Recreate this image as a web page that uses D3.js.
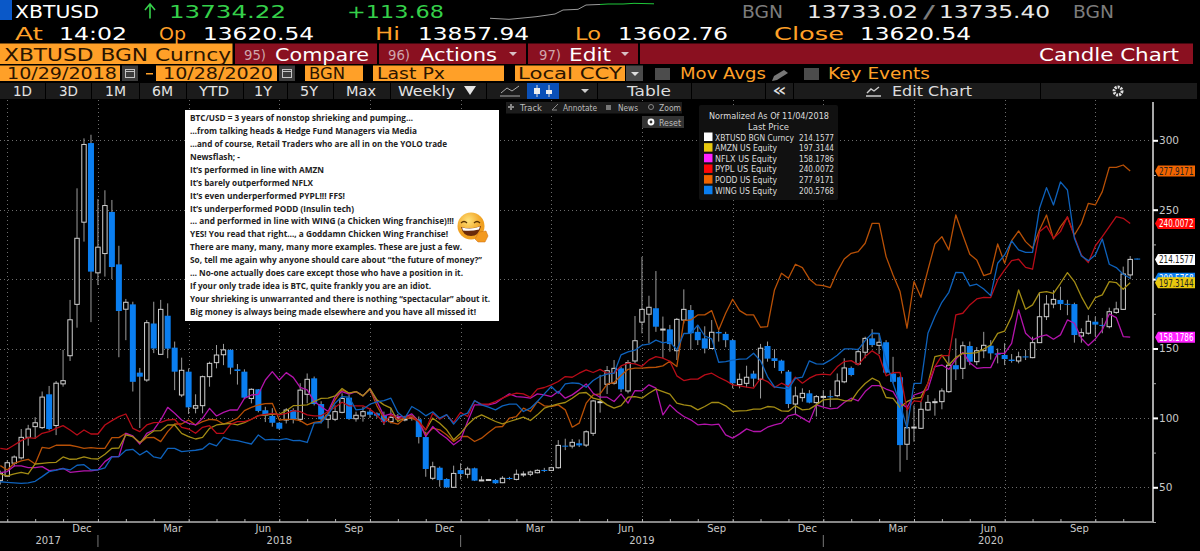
<!DOCTYPE html>
<html>
<head>
<meta charset="utf-8">
<script src="https://d3js.org/d3.v7.min.js"></script>
<style>
  html, body { margin: 0; padding: 0; background: #000; overflow: hidden; }
  svg { display: block; }
  text { font-family: "DejaVu Sans", sans-serif; }
</style>
</head>
<body>
<svg id="chart" width="1200" height="551"></svg>
<script>
// weekly candles, index = week number on the axis
const candleOpen = [55,58,67.4,71.2,86,93.7,93,117,94.5,124.5,
144.8,181.8,241,298,204.5,218.4,248.4,210.6,178.3,181.8,
132.6,127.3,168,145.8,173.6,150.6,116.5,133.3,107,108.8,
129.7,139.8,145.5,149,135,133.3,114,120.6,105.5,101.4,
96.5,98.5,105.7,99,117,128.5,110,99,99,104,
114.6,99.4,101.4,104.5,103.3,101.9,97.3,99.5,98.7,99.8,
99,86.2,56.5,64.1,56,50,62.4,59.4,63.7,55,
55.2,55.3,53.3,56.7,55.7,59.2,59.4,60.5,62.5,62.2,
64.1,80,79.7,81.7,80.4,88.9,111.2,124.2,125,135.7,
119.4,141,169,174.7,179,163.7,163.8,148.4,170.5,177.7,
162,157.3,150,161.9,160.5,156,124,124.9,131.9,127.8,
151.8,143,141.3,133.3,110,114.6,117.7,111,115.2,115.6,
116,126,136,138.8,147.3,157.3,152.3,154.5,132,129.3,
81,93,92.5,105.7,111.2,111.7,118.9,138,135.7,151.8,
140.5,148.4,152,146.5,145.3,142,141,144.3,143.4,154.2,
172.9,182,185,182.2,182,159,161,169.3,167,165.7,
176,178.2,203,214.8];
const candleClose = [60,67.7,71.8,86,92,96.5,115,92,125,126.8,
170.7,229.4,297,205.4,223,253,208.7,177,183.3,126,
129.7,168.6,150,178.2,149.9,133.3,134.3,107.6,108.8,129.7,
139.3,145.3,149,136.2,133.8,114.6,120.6,105,101.6,96.5,
92.2,105.7,99,120,127.8,110,99,102,104.5,114,
99.2,101.9,104.5,102.3,101.6,97,100.4,100,99.2,100.4,
86.2,63.2,64.8,55.2,50,60,59.6,63.2,54.8,55.3,
55.6,52.9,56.5,56.2,59.4,59.6,61,62.2,62.2,64.1,
80.2,79.5,82.4,80.2,90,112.2,111.7,134,135.7,120.6,
139.8,155.6,178.2,179.7,165.7,164,153.2,171,178.2,161,
156,150,161.7,160.9,156,125,127.8,129.3,128.3,150.2,
142.7,141,133.8,110,115.8,117.7,111,115.3,115.5,115,
126.6,136,130.9,147.7,157.3,152.5,154.5,132.6,126,80.4,
93,93.4,106.2,111.2,111.7,119.4,138,135,152,140.5,
148.4,152.3,146.5,145.5,142.4,141,144,143.7,154.2,172.9,
182,185.4,182,181.8,159.7,161.4,169.6,167.2,166.5,176.5,
178.5,203.7,214.2,214.2];
const candleHigh = [62,69.5,73,92,95,100.5,119,123,126.6,149,
185,265.4,301.4,304,257.6,264,257,224,185.7,183.7,
136,170.5,183.7,185,182.5,155,143.4,135.7,117,130.5,
140.5,152.5,153.3,149.5,138.8,135,121.3,120.8,108,107,
97,107,107,125,132,129.8,112,104.5,109,117.7,
116.5,104.5,108,106,104,104.5,107,102.8,101.5,101,
101,90,68.4,65,56.5,65.6,67.3,64.8,64.2,58,
56,56,58,57.5,62.8,61.5,62,63,64,64.8,
84,85,84.8,84.5,91,113,131,137.4,141.7,137,
141.7,173.4,216,188,205.8,173,167,172,192.6,181.3,
167,166,170.5,163,162,157,132,137.6,134,153.3,
155,149.5,142,134.5,122.5,121.3,120,116.5,120,120,
132,143,137,150,158.5,163.9,161,156,144,130,
105.7,109,111.7,116.5,114,121.3,145.4,157.3,155,155,
151,162,156,150,153.8,146,147.7,149,158.5,190,
188.5,192,194.5,185,183,164.5,174,173,172,179.4,
183.7,209,216.6,214.8];
const candleLow = [52,58,65,70,80,85,92,91,87.6,122.5,
141,165,227,169,195.7,201.8,200,143.7,156,119,
92.7,126,146.7,145.8,143,120,115,102.8,103.3,103.3,
122.5,135.7,138,131.4,124,114,110.5,104,97,93.7,
91.3,96,96,97,110.5,109,96,92.5,97.7,103.3,
98.5,97.3,97.3,100,100,94.9,96,97.3,97.5,98,
81.6,57.6,55.2,50.4,49.5,49.5,55.7,56.5,54.5,55,
54.7,52.5,53,55.5,55,57.5,58,60,61,62,
63.5,76.8,78,79,79,87,103.8,117.2,124,118.6,
117.7,139.3,160.9,153.7,162,143,147.7,141.7,168,149,
152.5,146.5,150,155,150.9,121.3,121.3,122,122.5,114,
140.5,136,132,107,102,111.7,110.5,101,108,107.8,
115,125,130,138,143,151,146,132,125,61.2,
69.7,82.9,92,105,101.6,106.2,118,127.3,128,138,
138,143,142,139.3,138,139.8,139.3,141.7,143,154,
170.5,179,177.7,174,154.2,154.2,160,158.5,161,164.5,
175,178,200,214.2];

const amznValues = [59.6,58.2,59.6,60.8,59.6,66.8,67.3,67.8,68,71.9,70.2,70.4,71.9,70.7,70.4,73.8,78.1,78.3,87.7,86.5,82.2,87,90.6,90.8,94.9,94.9,88.9,86.5,84.8,86,92.5,94.9,95.6,96.1,94.9,96.6,99,101.6,102.1,102.8,102.6,105.2,108.8,109,
109.4,111.8,114,114.2,115.9,121.2,117.8,119,115.9,121.2,113,109.4,107,97.4,100.5,101.5,97.4,91.4,99.8,96.2,91.4,84.2,89,95,99.8,102.2,99.8,97.4,95.7,97.4,99,100.5,98.1,102.2,107,108.7,110.1,111.1,114.2,117.8,118.3,114.2,113,
109.4,107,108.9,114.9,115.4,114.2,117.8,120.7,119,117.1,110.6,109.4,108.7,105.8,108.2,111.1,111.1,108.7,104.6,105.1,105.3,106.3,106.3,108.2,107.7,105.1,104.8,108.7,105.8,106.3,109.4,113,113.5,113.7,112.5,112.3,119.5,124.8,128.6,126.2,114.7,114.1,107.6,
111.7,114.1,114.8,124.9,144.1,145.3,138.1,143.6,146.5,146.5,147,149.6,152.5,160.9,162.6,173,192.2,178.3,181.4,190.3,191,189.8,197,204.7,198.2,187.4,178.3,186.7,188.6,198.2,197.5,192.7,197.3];
const nflxValues = [60.6,61.3,65.4,65.4,64.2,64.2,64.9,62,62.5,63.7,60.8,61.3,61.8,61.8,62.5,68.5,72.1,72.1,88.9,87,81.2,88.9,91.3,98.5,107.6,103.3,98.5,96.1,94.9,99.7,106.9,101.4,104,105.7,105.7,114.1,116.5,117,127.3,133.3,127.3,132.6,129.2,122,
120.2,111.8,108.2,104.6,115.4,119,117.1,119,115.9,121.2,111.8,101.5,102.9,101,100.5,102.9,97.4,86.6,93.8,89,85.4,80.6,84.2,97.4,109.4,109.4,109.4,110.6,114.2,117.3,115.4,114.9,114.2,117.3,116.6,115.4,119,114.2,116.6,120.2,124.5,117.8,114.9,
114.9,111.8,117.3,110.6,119.7,119.5,123.8,121.4,102.2,109.4,104.6,101,98.6,95,95.5,95,95.5,87.8,85.4,88.5,92.1,90.2,90.2,93.3,95,96.2,101.5,102.7,99.8,96.9,109.4,107.7,106.5,107,111.1,114.2,112.3,119,123.3,123.3,120.8,118.9,110.5,
107.6,116.5,118.2,120.6,136.9,138.1,135,142.4,147.2,139.8,135.7,136.2,136.2,146.5,146.5,153.7,177.8,161,156.2,158.6,159.8,156.7,159.8,170.6,168.2,157.4,152.1,156.9,163.4,174.9,172.3,158.6,158.18];
const pyplValues = [78.1,77.4,80.5,83.6,85.8,85.3,88.9,90.1,92.5,94.4,91.3,87.7,91.3,88.4,88.4,94.9,98,100.9,102.8,92.5,90.1,94.9,96.6,96.8,98.5,99,93.2,92,88.9,93.2,94.4,88.9,88.9,95.4,97.3,97.3,99,101.6,102.6,103.3,102.1,103.3,105.2,104.5,
102.2,101.5,101.5,104.6,107.7,111.3,108.7,108.7,108.7,106.3,102.2,96.2,102.2,99,100.5,101,97.4,91.4,103.4,99,102.2,96.7,103.9,101,112.3,109.9,109.9,111.8,114.2,116.4,117.8,117.3,114.9,120.7,121.9,123.8,126.2,129.8,129.3,132.2,134.6,132.7,135,
132.2,132.2,137.5,139.4,138.9,137.2,141.8,144.2,143,140.8,130.3,126.9,127.9,127.9,131,132.2,129.3,126.9,123.8,123.1,122.1,121.4,128.4,126.2,121.9,125,122.6,129.3,125,128.6,131,131.5,131,136.8,140.6,141.3,138.2,144.2,148.3,144.9,130.3,132.6,132.8,
105.7,112.2,111.7,124.9,136.9,144.8,144.8,174.2,175.4,181.4,185.7,186.9,186.7,199.4,206.6,213.3,214.3,208.5,207.1,234.2,238.3,229.4,234.2,245,230.6,217.4,211.9,223.9,230.6,237.8,245,243.8,240.01];
const poddValues = [65.6,62.5,67.3,69,70.2,66.8,78.8,78.1,80.3,80.3,80.3,79.3,78.1,78.6,78.1,78.1,85.8,85.8,88.9,86.5,81.7,85.8,86,82.9,90.1,95.6,95.6,98.5,94.9,97.3,99,98.5,95.6,97.3,99.7,105.2,107.6,109.3,110.3,110.5,98.5,99,99,98,
95,96.7,97.4,103.4,113,120.2,117.8,119,115.9,120.7,108.7,99.8,96.7,95.5,99.8,99.8,97.4,87.8,92.6,91.4,87.8,83,86.6,86.6,83,85.4,89.5,93.3,93.8,99.8,101,107,104.6,111.8,108.7,108.2,109.4,105.8,93.3,96.2,110.6,116.6,117.3,
124.3,125.5,130.5,135,135.8,135.8,136.3,136.5,137.5,140.8,137,170.1,170.6,174.2,174.2,177.3,163.4,175.4,185.5,177.3,174.2,174.2,165.3,165.8,192.2,204.2,200.6,210.7,208.3,200.1,195.8,195.3,193.9,205.4,214.5,218.6,219.8,225.8,240.2,240.2,216.2,203,191,
164.6,198.2,186.9,206.6,225.3,230.6,221,246.2,231.8,217.9,213.8,202.5,204.2,225.3,211.4,227.7,234.7,227,222.2,235.4,246.2,228.9,237.8,244.5,231.8,240.2,254.6,253.4,263,280.5,280.5,282.2,277.92];
const wingValues = [54,53.6,53.2,52.9,53.2,54.3,57.7,61.3,62.3,63.5,62.5,65.9,66.3,62.5,62.5,64,71.9,72.1,76.7,77.4,73.3,76.2,71.9,70.9,78.1,78.1,75.7,76.2,76.7,77.6,81.7,79.8,86,84.1,83.6,82.4,81.2,87.7,84.1,84.6,84.1,85,83.6,83.7,
82.3,96.2,96.7,102.2,110.6,115.4,115,105.8,106.3,109.9,111.6,112.5,114.2,103.9,99.8,108.2,105.3,101.5,104.4,99.8,102.4,95.5,101.5,103.4,112.5,109.4,107.7,105.8,108.7,109.9,109.9,104.6,107,111.8,117.3,122.6,117.8,124.5,125.2,124.8,122.1,126.9,130,
131.5,132.2,145.4,147.6,148.8,152.4,153.1,156,154,155,149,160.8,161,166.8,159,156.9,140.1,140.6,141.6,142.3,142.5,146.6,141.1,129.8,122.4,121.6,120.9,128.4,129.3,141.1,138.9,138.7,141.6,145.2,149.7,149.7,149.2,155.7,161,160.8,140.6,125,110,
92.5,124.9,124.9,161,173,183.3,190.5,204.9,204.7,195.1,196.3,192.9,188.1,211.4,217.4,227.5,221,219.3,219.3,251,265.9,253.4,270,264.2,229.4,216.7,213.3,217.4,228.9,210.7,208.3,203.5,200.58];

const seriesNames = ["AMZN US Equity", "NFLX US Equity", "PYPL US Equity", "PODD US Equity", "WING US Equity"];
const lastPrices = [197.3144, 158.1786, 240.0072, 277.9171, 200.5768];
const btcLast = 214.1577;
const lineColors = ["#a38c14", "#b414ac", "#b80c18", "#b85006", "#0e62bc"];
const tagColors = ["#e8c80e", "#ff22ff", "#ff0808", "#f26400", "#0a7ef0"];
const tagText = ["#222", "#fff", "#fff", "#222", "#fff"];

const yMajor = [50, 100, 150, 200, 250, 300];
const yMinor = [25, 75, 125, 175, 225, 275];
const yLabelled = [50, 100, 150, 250, 300];
const quarterWeeks = [1, 14, 27, 40, 53, 66, 79, 92, 105, 118, 131, 144, 157];
const monthWeeks = [1,5,9,14,18,22,27,31,35,40,44,48,53,57,61,66,70,74,79,83,87,92,96,100,105,109,113,118,122,126,131,135,139,144,148,152,157,161];
const monthLabels = ["Dec", "Mar", "Jun", "Sep", "Dec", "Mar", "Jun", "Sep", "Dec", "Mar", "Jun", "Sep"];
const yearLabels = ["2017", "2018", "2019", "2020"];
const yearCentres = [7, 40, 92, 142];
const yearBreaks = [14, 66, 118];

const noteLines = [
  "BTC/USD = 3 years of nonstop shrieking and pumping\u2026",
  "\u2026from talking heads & Hedge Fund Managers via Media",
  "\u2026and of course, Retail Traders who are all in on the YOLO trade",
  "Newsflash; -",
  "It\u2019s performed in line with AMZN",
  "It\u2019s barely outperformed NFLX",
  "It\u2019s even underperformed PYPL!!! FFS!",
  "It\u2019s underperformed PODD (Insulin tech)",
  "\u2026 and performed in line with WING (a Chicken Wing franchise)!!!",
  "YES! You read that right\u2026, a Goddamn Chicken Wing Franchise!",
  "There are many, many, many more examples. These are just a few.",
  "So, tell me again why anyone should care about \u201cthe future of money?\u201d",
  "\u2026 No-one actually does care except those who have a position in it.",
  "If your only trade idea is BTC, quite frankly you are an idiot.",
  "Your shrieking is unwarranted and there is nothing \u201cspectacular\u201d about it.",
  "Big money is always being made elsewhere and you have all missed it!"
];
const noteWidths = [223, 227, 257, 50, 134, 123, 155, 164, 264, 258, 272, 292, 273, 241, 300, 286];

// intraday sparkline in the header
const sparkTimes = [0, 19, 46, 65, 73, 88, 96, 110, 118, 133, 144, 164];
const sparkPrices = [13628, 13612, 13651, 13692, 13752, 13762, 13827, 13835, 13842, 13842, 13852, 13845];

const svg = d3.select("#chart");
const x = d3.scaleLinear().domain([0, 162]).range([0.3, 1130.2]);
const y = d3.scaleLinear().domain([50, 300]).range([487.3, 140.3]);

const ORANGE = "#ffa028", DARKRED = "#8a1020";

function label(parent, px, py, txt, size, color, width, anchor) {
  const t = parent.append("text").attr("x", px).attr("y", py)
    .attr("font-size", size).attr("fill", color).text(txt);
  if (width) t.attr("textLength", width).attr("lengthAdjust", "spacingAndGlyphs");
  if (anchor) t.attr("text-anchor", anchor);
  return t;
}
function box(parent, px, py, w, h, fill) {
  return parent.append("rect").attr("x", px).attr("y", py).attr("width", w).attr("height", h).attr("fill", fill);
}

// ---- header rows
const head = svg.append("g");
box(head, 0, 0, 12, 20, "#0a58c8");
label(head, 15, 17.5, "XBTUSD", 18.5, "#fff", 84);
head.append("path").attr("d", "M150 18.5V5M145 10l5-6 5 6").attr("fill", "none").attr("stroke", "#35d04a").attr("stroke-width", 1.6);
label(head, 169, 17.5, "13734.22", 18.5, "#35d04a", 117);
label(head, 347, 17.5, "+113.68", 18.5, "#35d04a", 97);
label(head, 742, 17.5, "BGN", 18, "#7c7c7c", 41);
label(head, 807, 17.5, "13733.02", 18.5, "#e8e8e8", 111);
label(head, 923, 17.5, "/", 18.5, "#7c7c7c", 12);
label(head, 939, 17.5, "13735.40", 18.5, "#e8e8e8", 111);
label(head, 1073, 17.5, "BGN", 18, "#7c7c7c", 41);

const sparkX = d3.scaleLinear().domain([0, 164]).range([490, 654]);
const sparkY = d3.scaleLinear().domain([13602, 13857]).range([20, 3]);
const sparkLine = d3.line().x((d, i) => sparkX(sparkTimes[i])).y(d => sparkY(d));
head.append("path").attr("d", sparkLine(sparkPrices.slice(0, 8))).attr("fill", "none").attr("stroke", "#9a9a9a").attr("stroke-width", 1);
head.append("path").attr("d", d3.line().x((d, i) => sparkX(sparkTimes[i + 7])).y(d => sparkY(d))(sparkPrices.slice(7))).attr("fill", "none").attr("stroke", "#1fc83a").attr("stroke-width", 1);

[[15, "At", 28, ORANGE], [59, "14:02", 68, "#fff"], [159, "Op", 27, ORANGE], [203, "13620.54", 111, "#fff"],
 [375, "Hi", 25, ORANGE], [418, "13857.94", 111, "#fff"], [575, "Lo", 26, ORANGE], [618, "13602.76", 110, "#fff"],
 [774, "Close", 70, ORANGE], [860, "13620.54", 111, "#fff"]].forEach(d => label(head, d[0], 39.5, d[1], 18.5, d[3], d[2]));

// function bar
box(head, 0, 43.5, 232.5, 20.5, ORANGE);
label(head, 4, 61, "XBTUSD BGN Curncy", 18, "#2a1400", 227);
box(head, 235, 43.5, 142, 20.5, DARKRED);
box(head, 379, 43.5, 147, 20.5, DARKRED);
box(head, 528, 43.5, 110, 20.5, DARKRED);
box(head, 640, 43.5, 553, 20.5, DARKRED);
[[244, "95)", 22], [388, "96)", 22], [539, "97)", 22]].forEach(d => label(head, d[0], 59.5, d[1], 14, "#cfa6ac", d[2]));
label(head, 275, 60.5, "Compare", 17.5, "#fff", 94);
label(head, 420, 60.5, "Actions", 17.5, "#fff", 77);
label(head, 569, 60.5, "Edit", 17.5, "#fff", 42);
label(head, 1039, 60.5, "Candle Chart", 17.5, "#fff", 140);
[513, 625].forEach(px => head.append("path").attr("d", `M${px - 4} 52h8l-4 4z`).attr("fill", "#d8c0c4"));

// date / field row
[[0, 120], [156, 121], [305, 58], [373, 131], [515, 110]].forEach(d => box(head, d[0], 65.5, d[1], 15.5, ORANGE));
[[122, 16], [279, 16]].forEach(d => {
  box(head, d[0], 65.5, d[1], 15.5, "#3c3c3c");
  head.append("rect").attr("x", d[0] + 3.5).attr("y", 69.5).attr("width", d[1] - 7).attr("height", 8)
    .attr("fill", "none").attr("stroke", "#c4c4c4");
  head.append("path").attr("d", `M${d[0] + 3.5} 71.5h${d[1] - 7}`).attr("stroke", "#c4c4c4");
});
box(head, 146, 73, 7, 1.5, ORANGE);
[[7, "10/29/2018", 110], [163, "10/28/2020", 110], [309, "BGN", 36], [377, "Last Px", 68], [518, "Local CCY", 104]]
  .forEach(d => label(head, d[0], 79, d[1], 15.5, "#2a1400", d[2]));
box(head, 626, 65.5, 17, 15.5, "#4a4a4a");
head.append("path").attr("d", "M631 72h8l-4 4z").attr("fill", "#ddd");
box(head, 655, 68, 15, 12, "#4c4c4c");
box(head, 804, 68, 15, 12, "#4c4c4c");
label(head, 680, 79, "Mov Avgs", 15.5, ORANGE, 86);
label(head, 828, 79, "Key Events", 15.5, ORANGE, 102);
head.append("path").attr("d", "M772 81l2-5 10-6 4 3-11 7z").attr("fill", "#777");

// period buttons row
box(head, 0, 83, 1197, 16, "#1b1b1b");
[[13, "1D", 19], [59, "3D", 19], [105, "1M", 21], [152, "6M", 21], [199, "YTD", 30], [254, "1Y", 18], [300, "5Y", 18], [346, "Max", 30], [398, "Weekly", 57]]
  .forEach(d => label(head, d[0], 95.7, d[1], 13.3, "#e4e4e4", d[2]));
[45, 91, 139, 186, 243, 287, 333, 390, 486, 597, 691, 765, 793, 1040].forEach(px => box(head, px, 83, 1, 16, "#000"));
head.append("path").attr("d", "M464 86h12l-6 9z").attr("fill", "#e6e6e6");
head.append("path").attr("d", "M500 96h20M501 93l6-5 5 3 7-5").attr("fill", "none").attr("stroke", "#aaa");
box(head, 527, 83, 32, 16, "#0a50b8");
head.append("path").attr("d", "M537 85v12M549 85v12").attr("stroke", "#ddd");
box(head, 534, 88, 6, 6, "#eee");
box(head, 546, 90, 6, 4, "#eee");
head.append("path").attr("d", "M581 89h8l-4 4z").attr("fill", "#ccc");
label(head, 627, 95.7, "Table", 13.3, "#ddd", 44);
label(head, 772, 96, "\u00ab", 17, "#e0e0e0", 15);
head.append("path").attr("d", "M866 96h15M867 93l4-4 3 2 5-4").attr("fill", "none").attr("stroke", "#ccc").attr("stroke-width", 1.4);
label(head, 892, 95.7, "Edit Chart", 13.3, "#ddd", 80);
head.append("circle").attr("cx", 1118).attr("cy", 91).attr("r", 4).attr("fill", "none").attr("stroke", "#e0e0e0").attr("stroke-width", 3).attr("stroke-dasharray", "2 1");

// ---- grid
const grid = svg.append("g");
grid.selectAll("line.h").data(yMajor).join("line").attr("class", "h")
  .attr("x1", 0).attr("x2", 1153).attr("y1", d => Math.round(y(d)) + 0.5).attr("y2", d => Math.round(y(d)) + 0.5)
  .attr("stroke", "#6c6c6c").attr("stroke-dasharray", "1 3");
grid.selectAll("line.v").data(quarterWeeks).join("line").attr("class", "v")
  .attr("y1", 100).attr("y2", 522).attr("x1", d => Math.round(x(d)) + 0.5).attr("x2", d => Math.round(x(d)) + 0.5)
  .attr("stroke", "#6c6c6c").attr("stroke-dasharray", "1 3");

// ---- candles
const weeks = d3.range(candleOpen.length);
const candles = svg.append("g");
const isDown = i => candleClose[i] < candleOpen[i];
candles.selectAll("line").data(weeks).join("line")
  .attr("x1", i => x(i)).attr("x2", i => x(i))
  .attr("y1", i => y(candleHigh[i])).attr("y2", i => y(candleLow[i]))
  .attr("stroke", "#9c9c9c").attr("stroke-width", 1);
candles.selectAll("rect").data(weeks).join("rect")
  .attr("x", i => x(i) - (isDown(i) ? 3 : 2.2))
  .attr("width", i => isDown(i) ? 6 : 4.4)
  .attr("y", i => y(Math.max(candleOpen[i], candleClose[i])))
  .attr("height", i => Math.max(1, Math.abs(y(candleOpen[i]) - y(candleClose[i]))))
  .attr("fill", i => isDown(i) ? "#0a7ef0" : "#000")
  .attr("stroke", i => isDown(i) ? "none" : "#d0d0d0")
  .attr("stroke-width", 1);

// ---- comparison lines
const lineGen = d3.line().x((d, i) => x(i)).y(d => y(d));
const allSeries = [amznValues, nflxValues, pyplValues, poddValues, wingValues];
[3, 1, 0, 2, 4].forEach(k => {
  svg.append("path").attr("d", lineGen(allSeries[k])).attr("fill", "none")
    .attr("stroke", lineColors[k]).attr("stroke-width", 1.3).attr("stroke-linejoin", "round");
});

// ---- axes
const xAxis = d3.axisBottom(x).tickValues(monthWeeks).tickSize(-3).tickFormat("");
const xG = svg.append("g").attr("transform", "translate(0,522)").call(xAxis);
xG.select(".domain").attr("d", "M0 0H1153").attr("stroke", "#b4b4b4").attr("stroke-width", 1.5);
xG.selectAll(".tick line").attr("stroke", "#b4b4b4");

svg.append("g").selectAll("text").data(monthLabels).join("text")
  .attr("x", (d, i) => x(quarterWeeks[i + 1]) - 16).attr("y", 532)
  .attr("text-anchor", "middle").attr("font-size", 10).attr("fill", "#c8c8c8").text(d => d);
svg.append("g").selectAll("text").data(yearLabels).join("text")
  .attr("x", (d, i) => x(yearCentres[i]) - (i ? 0 : 1)).attr("y", 543.5)
  .attr("text-anchor", "middle").attr("font-size", 10).attr("fill", "#c8c8c8").text(d => d);
svg.append("g").selectAll("line").data(yearBreaks).join("line")
  .attr("x1", d => x(d)).attr("x2", d => x(d)).attr("y1", 535).attr("y2", 547).attr("stroke", "#777");

const yAxis = d3.axisRight(y).tickValues(yMajor).tickSize(5).tickPadding(1).tickFormat(d => yLabelled.includes(d) ? d : "");
const yG = svg.append("g").attr("transform", "translate(1153,0)").call(yAxis);
yG.select(".domain").attr("d", "M0 102V522").attr("stroke", "#a8a8a8").attr("stroke-width", 2);
yG.selectAll(".tick line").attr("stroke", "#fff").attr("stroke-width", 2);
yG.selectAll(".tick text").attr("font-size", 10.5).attr("fill", "#c8c8c8").attr("font-family", "DejaVu Sans");
const yMinorAxis = d3.axisRight(y).tickValues(yMinor).tickSize(3).tickFormat("");
const yMinorG = svg.append("g").attr("transform", "translate(1153,0)").call(yMinorAxis);
yMinorG.select(".domain").remove();
yMinorG.selectAll(".tick line").attr("stroke", "#aaa");

// ---- last price tags
function priceTag(value, fill, color) {
  const py = y(value);
  svg.append("path").attr("d", `M1155 ${py}l3-5.5h37v11h-37z`).attr("fill", fill);
  label(svg, 1159, py + 3.8, d3.format(".4f")(value), 10.5, color, 34.5);
}
[4, 3, 2].forEach(k => priceTag(lastPrices[k], tagColors[k], tagText[k]));
priceTag(btcLast, "#fff", "#222");
priceTag(lastPrices[0], tagColors[0], tagText[0]);
priceTag(lastPrices[1], tagColors[1], tagText[1]);

// ---- tool buttons
const tools = svg.append("g");
box(tools, 506, 102, 176, 11.5, "#1c1c1c");
box(tools, 642, 116, 42, 12, "#333");
[[520, "Track", 22], [563, "Annotate", 34], [618, "News", 20], [659, "Zoom", 22], [659, "Reset", 22]].forEach((d, i) =>
  label(tools, d[0], i === 4 ? 125.5 : 111, d[1], 8.5, "#bdbdbd", d[2]));
tools.append("path").attr("d", "M511 104v6M508 107h6").attr("stroke", "#888").attr("stroke-width", 2);
tools.append("path").attr("d", "M552 110l6-6M552 110h5").attr("stroke", "#888");
box(tools, 606, 105, 5, 5, "#777");
tools.append("circle").attr("cx", 651).attr("cy", 107).attr("r", 2.5).attr("fill", "none").attr("stroke", "#888");
tools.append("circle").attr("cx", 651).attr("cy", 122).attr("r", 2.4).attr("fill", "none").attr("stroke", "#fff").attr("stroke-width", 2);

// ---- legend
const legend = svg.append("g");
box(legend, 699, 105, 139, 95, "#111").attr("rx", 2);
label(legend, 709, 119, "Normalized As Of 11/04/2018", 9.5, "#dcdcdc", 120);
label(legend, 748, 130, "Last Price", 9.5, "#dcdcdc", 41);
const legendNames = ["XBTUSD BGN Curncy"].concat(seriesNames);
const legendVals = [btcLast].concat(lastPrices);
const legendFills = ["#fff"].concat(tagColors);
legendNames.forEach((name, i) => {
  const py = 140.5 + i * 10.65;
  legend.append("rect").attr("x", 704).attr("y", py - 8).attr("width", 8.5).attr("height", 8.5).attr("fill", legendFills[i]);
  label(legend, 715, py, name, 9.5, "#dcdcdc", i ? 62 : 79);
  label(legend, 799, py, d3.format(".4f")(legendVals[i]), 9.5, "#dcdcdc", 35);
});

// ---- pasted note
const note = svg.append("g");
box(note, 185, 110, 314, 211, "#fff");
note.selectAll("text").data(noteLines).join("text")
  .attr("x", 190).attr("y", (d, i) => 120.8 + i * 12.96)
  .attr("font-size", 9.6).attr("font-weight", 700).attr("fill", "#222")
  .style("font-family", "'Open Sans', sans-serif")
  .attr("textLength", (d, i) => noteWidths[i]).attr("lengthAdjust", "spacingAndGlyphs")
  .text(d => d);

// laughing face beside the note
const face = note.append("g").attr("transform", "translate(471,226)");
const grad = svg.append("defs").append("radialGradient").attr("id", "faceFill").attr("cx", "40%").attr("cy", "30%");
grad.append("stop").attr("offset", "0%").attr("stop-color", "#ffe27a");
grad.append("stop").attr("offset", "100%").attr("stop-color", "#f0a020");
face.append("circle").attr("r", 13.5).attr("fill", "url(#faceFill)");
face.append("path").attr("d", "M-10 -3q3 -3 6 0M3 -3q3 -3 6 0").attr("fill", "none").attr("stroke", "#5a3300").attr("stroke-width", 1.3);
face.append("path").attr("d", "M-10 1q10 3 20 -1q-2 10 -10 10q-8 0 -10 -9z").attr("fill", "#6b2a0a");
face.append("path").attr("d", "M-9 1.5q9 2.5 18 -1l-1 3q-8 2 -16 1z").attr("fill", "#fff");
face.append("path").attr("d", "M4 13l4 -7 7 -1 2 5 -3 6 -7 0z").attr("fill", "#f39a20").attr("stroke", "#c86a10").attr("stroke-width", 0.5);
</script>
</body>
</html>
